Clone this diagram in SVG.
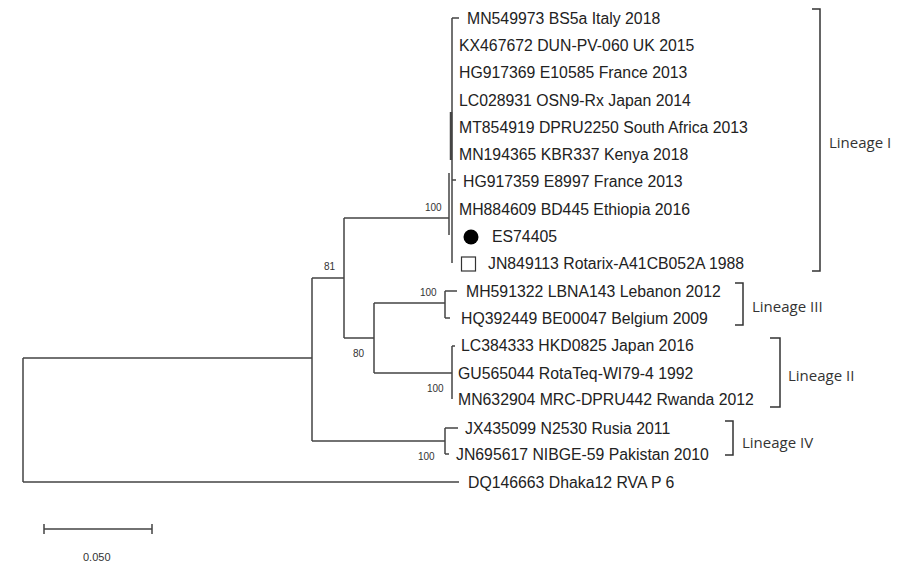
<svg xmlns="http://www.w3.org/2000/svg" width="910" height="571" viewBox="0 0 910 571">
<style>
.t{font-family:"Liberation Sans",Arial,sans-serif;font-size:15.8px;fill:#222}
.b{font-family:"Liberation Sans",Arial,sans-serif;font-size:10px;fill:#333}
.lin{font-family:"Open Sans","DejaVu Sans",sans-serif;font-size:15px;fill:#333}
.e{fill:none;stroke:#444;stroke-width:1.5}
.br{fill:none;stroke:#333;stroke-width:1.5}
</style>
<rect width="910" height="571" fill="#fff"/>
<g id="connectors" class="e">
<path d="M23 358V482M23 358H312M23 482H459"/>
<path d="M312 278V441M312 278H344M312 441H445"/>
<path d="M445 428V454M445 428H458M445 454H449"/>
<path d="M344 218V338M344 218H449M344 338H374"/>
<path d="M374 303V373M374 303H445M374 373H452"/>
<path d="M445 291V318M445 291H457M445 318H450"/>
<path d="M452 346V399M452 346H455"/>
<path d="M452 18V263M452 18H459M449 173V235M452 180H456"/>
<path d="M451 112V160" stroke-width="2.5"/>
</g>
<g id="leaf-MN549973"><text class="t" x="467" y="23.6">MN549973 BS5a Italy 2018</text></g>
<g id="leaf-KX467672"><text class="t" x="459" y="50.9">KX467672 DUN-PV-060 UK 2015</text></g>
<g id="leaf-HG917369"><text class="t" x="459" y="78.2">HG917369 E10585 France 2013</text></g>
<g id="leaf-LC028931"><text class="t" x="459" y="105.5">LC028931 OSN9-Rx Japan 2014</text></g>
<g id="leaf-MT854919"><text class="t" x="459" y="132.8">MT854919 DPRU2250 South Africa 2013</text></g>
<g id="leaf-MN194365"><text class="t" x="459" y="160.1">MN194365 KBR337 Kenya 2018</text></g>
<g id="leaf-HG917359"><text class="t" x="463" y="187.4">HG917359 E8997 France 2013</text></g>
<g id="leaf-MH884609"><text class="t" x="459" y="214.7">MH884609 BD445 Ethiopia 2016</text></g>
<g id="leaf-ES74405"><circle cx="471" cy="237" r="7.5" fill="#000"/><text class="t" x="492" y="242">ES74405</text></g>
<g id="leaf-JN849113"><rect x="461.5" y="257" width="14" height="14" fill="#fff" stroke="#333" stroke-width="1.2"/><text class="t" x="488" y="269.3">JN849113 Rotarix-A41CB052A 1988</text></g>
<g id="leaf-MH591322"><text class="t" x="466" y="296.6">MH591322 LBNA143 Lebanon 2012</text></g>
<g id="leaf-HQ392449"><text class="t" x="461" y="323.9">HQ392449 BE00047 Belgium 2009</text></g>
<g id="leaf-LC384333"><text class="t" x="461" y="351.2">LC384333 HKD0825 Japan 2016</text></g>
<g id="leaf-GU565044"><text class="t" x="458" y="378.5">GU565044 RotaTeq-WI79-4 1992</text></g>
<g id="leaf-MN632904"><text class="t" x="458" y="404.8">MN632904 MRC-DPRU442 Rwanda 2012</text></g>
<g id="leaf-JX435099"><text class="t" x="465" y="433.6">JX435099 N2530 Rusia 2011</text></g>
<g id="leaf-JN695617"><text class="t" x="456" y="459.6">JN695617 NIBGE-59 Pakistan 2010</text></g>
<g id="leaf-DQ146663"><text class="t" x="468" y="487.6">DQ146663 Dhaka12 RVA P 6</text></g>
<g id="bootstrap">
<text class="b" x="425" y="211">100</text>
<text class="b" x="324" y="270">81</text>
<text class="b" x="420" y="296">100</text>
<text class="b" x="353" y="357">80</text>
<text class="b" x="427" y="392">100</text>
<text class="b" x="418" y="460">100</text>
</g>
<g id="lineage-I"><path class="br" d="M812 9H820V271H812"/><text class="lin" x="829" y="148">Lineage I</text></g>
<g id="lineage-III"><path class="br" d="M735 283H743V325H735"/><text class="lin" x="752" y="312">Lineage III</text></g>
<g id="lineage-II"><path class="br" d="M770 338H780V407H770"/><text class="lin" x="788" y="381">Lineage II</text></g>
<g id="lineage-IV"><path class="br" d="M725 421H733V455H725"/><text class="lin" x="742" y="448">Lineage IV</text></g>
<g id="scale"><path class="e" d="M44 529H152M44 524V534M152 524V534"/><text class="b" x="83" y="561" style="font-size:11px">0.050</text></g>
</svg>
